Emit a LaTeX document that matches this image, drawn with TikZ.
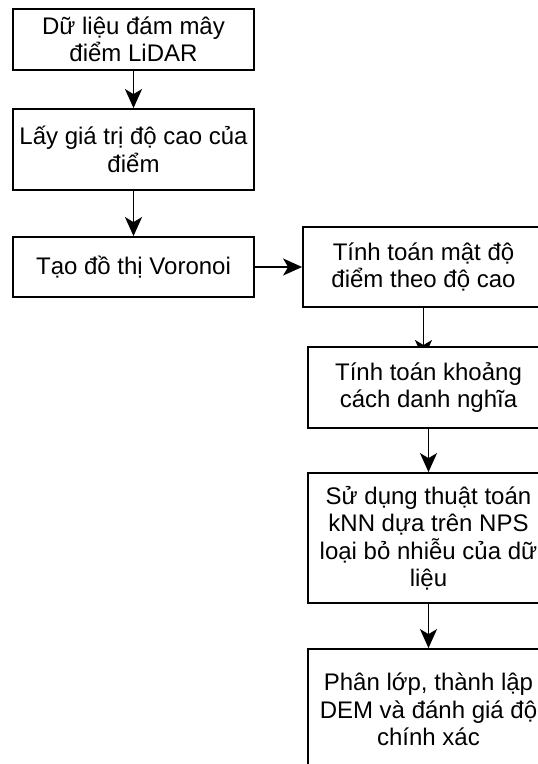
\documentclass[tikz,border=0pt]{standalone}
\usepackage{fontspec}
\setmainfont{Liberation Sans}
\usetikzlibrary{arrows.meta}
\pgfdeclarelayer{bg}
\pgfsetlayers{bg,main}
\begin{document}
\begin{tikzpicture}[x=1pt,y=-1pt,
  box/.style={draw=black, line width=1.8pt, fill=white, minimum width=241pt, align=center,
    font=\fontsize{24}{27.5}\selectfont, inner sep=0pt},
  conn/.style={line width=1.8pt, -{Stealth[length=19pt,width=17pt,inset=5pt]}}]
\clip (0,0) rectangle (538,764);
\node[box, minimum height=61pt] (b1) at (133.5,39.5) {Dữ liệu đám mây\\điểm LiDAR};
\node[box, minimum height=81pt] (b2) at (133.5,149.5) {Lấy giá trị độ cao của\\điểm};
\node[box, minimum height=60pt] (b3) at (133.5,267) {Tạo đồ thị Voronoi};
\node[box, minimum height=80pt] (b4) at (423.5,267) {Tính toán mật độ\\điểm theo độ cao};
\node[box, minimum height=81pt] (b5) at (428.5,387.5) {Tính toán khoảng\\cách danh nghĩa};
\node[box, minimum height=130pt] (b6) at (428.5,538) {Sử dụng thuật toán\\kNN dựa trên NPS\\loại bỏ nhiễu của dữ\\liệu};
\node[box, minimum height=121pt] (b7) at (428.5,709.5) {Phân lớp, thành lập\\DEM và đánh giá độ\\chính xác};
\coordinate (t45) at (423.5,359);
\begin{pgfonlayer}{bg}
\fill[white] (0,0) rectangle (538,764);
\draw[conn] (b1) -- (b2);
\draw[conn] (b2) -- (b3);
\draw[conn] (b3) -- (b4);
\draw[conn] (b4.south) -- (t45);
\draw[conn] (b5) -- (b6);
\draw[conn] (b6) -- (b7);
\end{pgfonlayer}
\end{tikzpicture}
\end{document}
